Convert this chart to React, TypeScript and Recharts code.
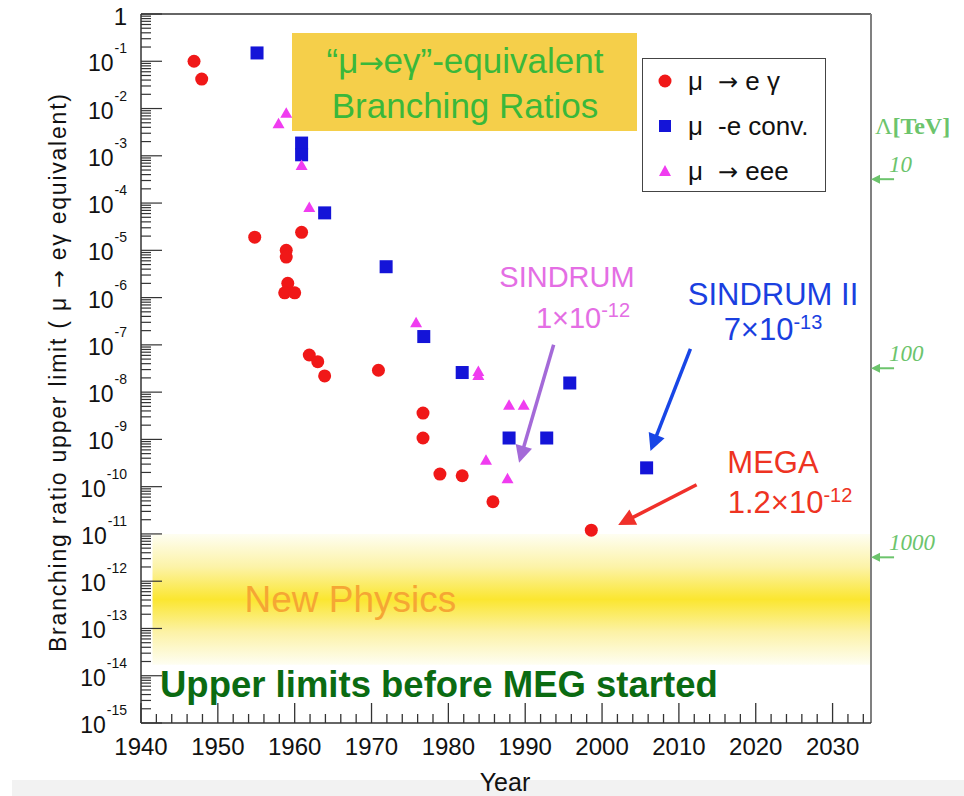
import React from 'react';
import { ScatterChart, Scatter, XAxis, YAxis, ReferenceArea, ReferenceLine, Legend } from 'recharts';

// μ → e γ upper limits (year, branching ratio)
const muEGamma = [
  { year: 1946.9, br: 1.0e-1 },
  { year: 1947.9, br: 4.2e-2 },
  { year: 1954.8, br: 1.9e-5 },
  { year: 1958.9, br: 1.0e-5 },
  { year: 1958.9, br: 7.2e-6 },
  { year: 1959.1, br: 2.0e-6 },
  { year: 1958.7, br: 1.26e-6 },
  { year: 1960.0, br: 1.26e-6 },
  { year: 1960.9, br: 2.4e-5 },
  { year: 1961.9, br: 6.1e-8 },
  { year: 1963.0, br: 4.4e-8 },
  { year: 1963.9, br: 2.2e-8 },
  { year: 1970.9, br: 2.9e-8 },
  { year: 1976.7, br: 3.6e-9 },
  { year: 1976.7, br: 1.07e-9 },
  { year: 1978.9, br: 1.85e-10 },
  { year: 1981.8, br: 1.7e-10 },
  { year: 1985.8, br: 4.8e-11 },
  { year: 1998.6, br: 1.2e-11 },
];

// μ-e conversion
const muEConv = [
  { year: 1955.1, br: 1.5e-1 },
  { year: 1960.9, br: 1.86e-3 },
  { year: 1960.9, br: 1.05e-3 },
  { year: 1963.9, br: 6.2e-5 },
  { year: 1971.9, br: 4.5e-6 },
  { year: 1976.8, br: 1.5e-7 },
  { year: 1981.8, br: 2.6e-8 },
  { year: 1987.9, br: 1.07e-9 },
  { year: 1992.8, br: 1.07e-9 },
  { year: 1995.8, br: 1.56e-8 },
  { year: 2005.8, br: 2.5e-10 },
];

// μ → eee
const muEee = [
  { year: 1957.9, br: 4.9e-3 },
  { year: 1958.9, br: 8.1e-3 },
  { year: 1960.9, br: 6.4e-4 },
  { year: 1961.9, br: 8.3e-5 },
  { year: 1975.8, br: 3.0e-7 },
  { year: 1983.9, br: 2.8e-8 },
  { year: 1983.9, br: 2.3e-8 },
  { year: 1987.9, br: 5.4e-9 },
  { year: 1989.8, br: 5.4e-9 },
  { year: 1984.9, br: 3.7e-10 },
  { year: 1987.7, br: 1.5e-10 },
];

const xMajorTicks = [1940, 1950, 1960, 1970, 1980, 1990, 2000, 2010, 2020, 2030];
const yExponents = [0, -1, -2, -3, -4, -5, -6, -7, -8, -9, -10, -11, -12, -13, -14, -15];
const lambdaLabels = ['10', '100', '1000'];
const lambdaBR = [3.2e-4, 3.2e-8, 3.2e-12];
const newPhysicsBand = [1.7e-14, 1e-11];

const xTicks: number[] = [];
xMajorTicks.forEach((t) => [0, 2, 4, 6, 8].forEach((d) => { if (t + d <= 2034) xTicks.push(t + d); }));
const yTicks: number[] = [];
yExponents.forEach((e) => {
  yTicks.push(Math.pow(10, e));
  if (e < 0) [2, 3, 4, 5, 6, 7, 8, 9].forEach((m) => yTicks.push(m * Math.pow(10, e)));
});

const RED = '#f01818';
const BLUE = '#1414d8';
const MAGENTA = '#f03cf0';
const FONT = '"Liberation Sans", Arial, Helvetica, sans-serif';
const SERIF = '"Liberation Serif", "Times New Roman", serif';
const ARROW_FONT = '"DejaVu Sans", sans-serif';

const XTick = ({ x, y, payload }: any) => {
  const major = payload.value % 10 === 0;
  return (
    <g>
      <line x1={x} x2={x} y1={y} y2={y - (major ? 20 : 9)} stroke="#333" strokeWidth={1.3} />
      {major && (
        <text x={x} y={y + 32} textAnchor="middle" fontSize={24} fontFamily={FONT} fill="#111">
          {payload.value}
        </text>
      )}
    </g>
  );
};

const YTick = ({ x, y, payload }: any) => {
  const lg = Math.log10(payload.value);
  const e = Math.round(lg);
  const major = Math.abs(lg - e) < 1e-6;
  return (
    <g>
      <line x1={x} x2={x + (major ? 21 : 10)} y1={y} y2={y} stroke="#333" strokeWidth={1.2} />
      {major && e === 0 && (
        <text x={x - 14} y={y + 11} textAnchor="end" fontSize={24} fontFamily={FONT} fill="#111">1</text>
      )}
      {major && e !== 0 && (
        <text x={x - 14} y={y + 10} textAnchor="end" fontSize={23} fontFamily={FONT} fill="#111">
          10<tspan dy={-18} dx={1} fontSize={14}>{e}</tspan>
        </text>
      )}
    </g>
  );
};

const Circle = (p: any) => <circle cx={p.cx} cy={p.cy} r={6.5} fill={RED} />;
const Square = (p: any) => <rect x={p.cx - 6.5} y={p.cy - 6.5} width={13} height={13} fill={BLUE} />;
const Triangle = (p: any) => (
  <polygon points={`${p.cx},${p.cy - 5.5} ${p.cx + 6},${p.cy + 5} ${p.cx - 6},${p.cy + 5}`} fill={MAGENTA} />
);

const arrow = (color: string, width: number, head: number, label?: string) => (p: any) => {
  const { x1, y1, x2, y2 } = p;
  const a = Math.atan2(y2 - y1, x2 - x1);
  const bx = x2 - head * Math.cos(a);
  const by = y2 - head * Math.sin(a);
  const w = head * 0.5;
  const pts = `${x2},${y2} ${bx + w * Math.sin(a)},${by - w * Math.cos(a)} ${bx - w * Math.sin(a)},${by + w * Math.cos(a)}`;
  return (
    <g>
      <line x1={x1} y1={y1} x2={bx + Math.cos(a)} y2={by + Math.sin(a)} stroke={color} strokeWidth={width} />
      <polygon points={pts} fill={color} />
      {label && (
        <text x={x1 - 5} y={y1 - 7} fontSize={23} fontStyle="italic" fontFamily={SERIF} fill="#6cc46c">
          {label}
        </text>
      )}
    </g>
  );
};

const NewPhysicsLabel = ({ viewBox }: any) => (
  <text
    x={(viewBox?.x ?? 153) + 92}
    y={(viewBox?.y ?? 535) + 78}
    fontSize={37}
    fontFamily={FONT}
    fill="#f5a634"
  >
    New Physics
  </text>
);

const legendItems = [
  { mu: 'μ', rest: ['→', ' e γ'], color: RED, shape: 'circle' },
  { mu: 'μ', rest: ['', '-e conv.'], color: BLUE, shape: 'square' },
  { mu: 'μ', rest: ['→', ' eee'], color: MAGENTA, shape: 'triangle' },
];

const LegendBox = () => (
  <div style={{ width: 184, height: 134, border: '1.5px solid #444', background: '#fff', boxSizing: 'border-box' }}>
    <svg width={181} height={131}>
      {legendItems.map((it, i) => {
        const cy = 22 + i * 45;
        return (
          <g key={i}>
            {it.shape === 'circle' && <circle cx={22} cy={cy} r={6.5} fill={it.color} />}
            {it.shape === 'square' && <rect x={16} y={cy - 6} width={12} height={12} fill={it.color} />}
            {it.shape === 'triangle' && (
              <polygon points={`22,${cy - 6} 28,${cy + 5} 16,${cy + 5}`} fill={it.color} />
            )}
            <text x={45} y={cy + 9} fontSize={26} fontFamily={FONT} fill="#111">{it.mu}</text>
            <text x={75} y={cy + 9} fontSize={26} fontFamily={FONT} fill="#111">
              {it.rest[0] && <tspan fontFamily={ARROW_FONT} fontSize={24}>{it.rest[0]}</tspan>}
              {it.rest[1]}
            </text>
          </g>
        );
      })}
    </svg>
  </div>
);

export default function App() {
  return (
    <div style={{ position: 'absolute', left: 0, top: 0, width: 964, height: 796, background: '#fff' }}>
      <ScatterChart width={964} height={796} margin={{ top: 14, right: 93, bottom: 0, left: 0 }}>
        <defs>
          <linearGradient id="npGrad" x1="0" y1="0" x2="0" y2="1">
            <stop offset="0%" stopColor="#fefef2" />
            <stop offset="25%" stopColor="#fcf3a8" />
            <stop offset="50%" stopColor="#fbe630" />
            <stop offset="75%" stopColor="#fcf2a6" />
            <stop offset="100%" stopColor="#fefef2" />
          </linearGradient>
        </defs>
        <rect x={12} y={780} width={952} height={16} fill="#f2f2f2" />
        <XAxis
          type="number"
          dataKey="year"
          domain={[1940, 2035]}
          allowDataOverflow
          ticks={xTicks}
          interval={0}
          tickSize={0}
          tickMargin={0}
          tick={<XTick />}
          height={73}
          stroke="#333"
          strokeWidth={1.5}
        />
        <YAxis
          type="number"
          dataKey="br"
          scale="log"
          domain={[1e-15, 1]}
          allowDataOverflow
          ticks={yTicks}
          interval={0}
          tickSize={0}
          tickMargin={0}
          tick={<YTick />}
          width={141}
          stroke="#333"
          strokeWidth={1.5}
        />
        <ReferenceArea
          x1={1941.5}
          x2={2035}
          y1={newPhysicsBand[0]}
          y2={newPhysicsBand[1]}
          fill="url(#npGrad)"
          fillOpacity={1}
          stroke="none"
          label={<NewPhysicsLabel />}
        />
        <ReferenceLine y={1} stroke="#333" strokeWidth={1.5} />
        <ReferenceLine x={2035} stroke="#808080" strokeWidth={2} />

        <rect x={292} y={33} width={345} height={98} fill="#f5cf4a" />
        <text x={465} y={73} textAnchor="middle" fontSize={35} fontFamily={FONT} fill="#3ab83a">
          “μ<tspan fontFamily={ARROW_FONT} fontSize={30}>→</tspan>eγ”-equivalent
        </text>
        <text x={465} y={118} textAnchor="middle" fontSize={35} fontFamily={FONT} fill="#3ab83a">
          Branching Ratios
        </text>

        <text x={160} y={697} fontSize={36.5} fontWeight="bold" fontFamily={FONT} fill="#0b6b12">
          Upper limits before MEG started
        </text>

        <text x={567} y={287} textAnchor="middle" fontSize={29} fontFamily={FONT} fill="#e46ee4">SINDRUM</text>
        <text x={583} y={328} textAnchor="middle" fontSize={29} fontFamily={FONT} fill="#e46ee4">
          1×10<tspan dy={-11} fontSize={20}>-12</tspan>
        </text>
        <text x={773} y={305} textAnchor="middle" fontSize={31} fontFamily={FONT} fill="#1a3fe0">SINDRUM II</text>
        <text x={773} y={340} textAnchor="middle" fontSize={31} fontFamily={FONT} fill="#1a3fe0">
          7×10<tspan dy={-11} fontSize={20}>-13</tspan>
        </text>
        <text x={773} y={473} textAnchor="middle" fontSize={31} fontFamily={FONT} fill="#ee3322">MEGA</text>
        <text x={790} y={513} textAnchor="middle" fontSize={31} fontFamily={FONT} fill="#ee3322">
          1.2×10<tspan dy={-11} fontSize={20}>-12</tspan>
        </text>

        <ReferenceLine
          segment={[{ x: 1993.7, y: 1e-7 }, { x: 1989.2, y: 3.2e-10 }]}
          shape={arrow('#a46ad8', 3.5, 17)}
        />
        <ReferenceLine
          segment={[{ x: 2011.5, y: 8.2e-8 }, { x: 2006.3, y: 5.7e-10 }]}
          shape={arrow('#1846e6', 3.5, 17)}
        />
        <ReferenceLine
          segment={[{ x: 2012.3, y: 1.1e-10 }, { x: 2002.1, y: 1.55e-11 }]}
          shape={arrow('#f0302a', 3.5, 17)}
        />
        {lambdaLabels.map((l, i) => (
          <ReferenceLine
            key={l}
            ifOverflow="visible"
            segment={[{ x: 2038, y: lambdaBR[i] }, { x: 2035, y: lambdaBR[i] }]}
            shape={arrow('#6cc46c', 2, 9, l)}
          />
        ))}
        <text x={875} y={134} fontSize={24} fontFamily={SERIF} fill="#6cc46c">
          Λ<tspan fontWeight="bold">[TeV]</tspan>
        </text>

        <text
          transform="translate(66,373) rotate(-90)"
          textAnchor="middle"
          fontSize={23}
          textLength={558}
          lengthAdjust="spacing"
          fontFamily={FONT}
          fill="#111"
        >
          Branching ratio upper limit ( μ <tspan fontFamily={ARROW_FONT} fontSize={21}>→</tspan> eγ equivalent)
        </text>
        <text x={505} y={791} textAnchor="middle" fontSize={25} fontFamily={FONT} fill="#111">Year</text>

        <Scatter name="μ → e γ" data={muEGamma} fill={RED} shape={Circle} isAnimationActive={false} />
        <Scatter name="μ -e conv." data={muEConv} fill={BLUE} shape={Square} isAnimationActive={false} />
        <Scatter name="μ → eee" data={muEee} fill={MAGENTA} shape={Triangle} isAnimationActive={false} />

        <Legend
          layout="horizontal"
          verticalAlign="middle"
          align="center"
          wrapperStyle={{ left: 642, top: 58, width: 184 }}
          content={() => <LegendBox />}
        />
      </ScatterChart>
    </div>
  );
}
